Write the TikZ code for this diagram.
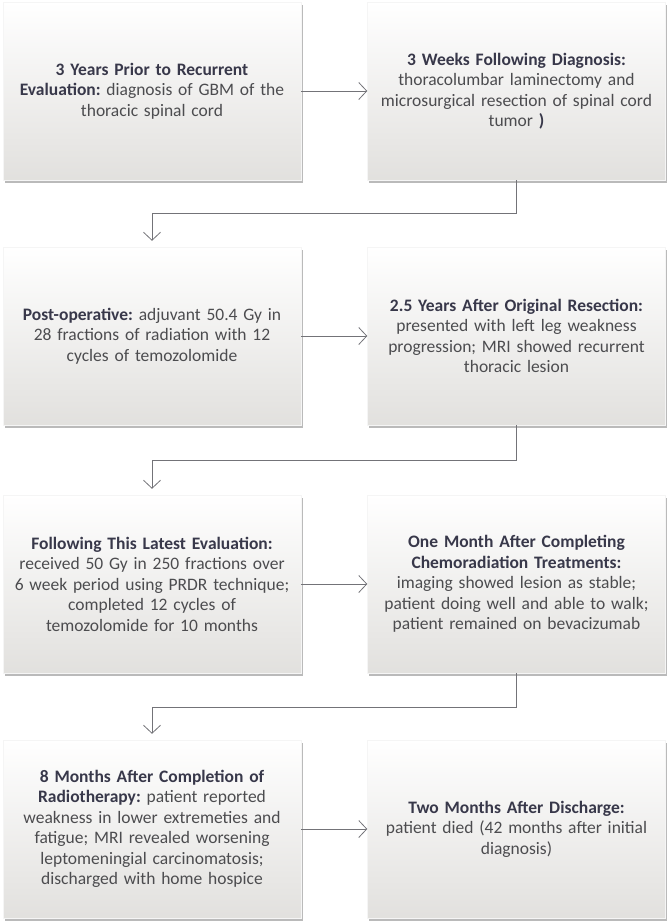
\documentclass[tikz,border=0pt]{standalone}
\usepackage{fontspec}
\setmainfont{Carlito}
\usepackage{tikz}
\usetikzlibrary{arrows.meta,positioning,shadows}
\frenchspacing
\definecolor{colorhead}{rgb}{0.22, 0.22, 0.29}
\definecolor{colortext}{rgb}{0.30, 0.30, 0.31}
\definecolor{colorboxtop}{rgb}{1, 1, 1}
\definecolor{colorboxmid}{rgb}{0.985, 0.985, 0.98}
\definecolor{colorboxbot}{rgb}{0.885, 0.88, 0.87}
\definecolor{colorline}{rgb}{0.45, 0.45, 0.47}
\newcommand{\stylehead}[1]{\textcolor{colorhead}{\textbf{#1}}}
\tikzstyle{event}=[rectangle, minimum width=298pt, minimum height=178pt, inner sep=0pt, draw=black!4, top color=colorboxtop, middle color=colorboxmid, bottom color=colorboxbot, drop shadow={shadow xshift=1.5pt, shadow yshift=-2.5pt, fill=black!45, opacity=0.6}, align=center, text width=294pt, text=colortext, font=\fontsize{17.5}{20.5}\selectfont]
\tikzstyle{flow}=[draw=colorline, line width=0.8pt, -{Straight Barb[length=8pt, width=17pt, line width=0.8pt]}]

\begin{document}
\begin{tikzpicture}[x=1pt, y=1pt]
		
		\useasboundingbox (0, 0) rectangle (668, -922);
		
		\node[event] at (152, -91) (e1) {\stylehead{3 Years Prior to Recurrent} \\ \stylehead{Evaluation:} diagnosis of GBM of the \\ thoracic spinal cord};
		
		\node[event] at (516.5, -91) (e2) {\stylehead{3 Weeks Following Diagnosis:} \\ thoracolumbar laminectomy and \\ microsurgical resection of spinal cord \\ tumor \stylehead{)}};
		
		\node[event] at (152, -336) (e3) {\stylehead{Post-operative:} adjuvant 50.4 Gy in \\ 28 fractions of radiation with 12 \\ cycles of temozolomide};
		
		\node[event] at (516.5, -336) (e4) {\stylehead{2.5 Years After Original Resection:} \\ presented with left leg weakness \\ progression; MRI showed recurrent \\ thoracic lesion};
		
		\node[event] at (152, -584) (e5) {\stylehead{Following This Latest Evaluation:} \\ received 50 Gy in 250 fractions over \\ 6 week period using PRDR technique; \\ completed 12 cycles of \\ temozolomide for 10 months};
		
		\node[event] at (516.5, -584) (e6) {\stylehead{One Month After Completing} \\ \stylehead{Chemoradiation Treatments:} \\ imaging showed lesion as stable; \\ patient doing well and able to walk; \\ patient remained on bevacizumab};
		
		\node[event] at (152, -829) (e7) {\stylehead{8 Months After Completion of} \\ \stylehead{Radiotherapy:} patient reported \\ weakness in lower extremeties and \\ fatigue; MRI revealed worsening \\ leptomeningial carcinomatosis; \\ discharged with home hospice};
		
		\node[event] at (516.5, -829) (e8) {\stylehead{Two Months After Discharge:} \\ patient died (42 months after initial \\ diagnosis)};
		
		% across each row
		\path[flow] (e1) -- (e2);
		\path[flow] (e3) -- (e4);
		\path[flow] (e5) -- (e6);
		\path[flow] (e7) -- (e8);
		
		% back down to the next row
		\path[flow, shorten >=6pt] (e2.south) -- ++(0, -33) -| (e3.north);
		\path[flow, shorten >=6pt] (e4.south) -- ++(0, -35) -| (e5.north);
		\path[flow, shorten >=6pt] (e6.south) -- ++(0, -34) -| (e7.north);
		
		\end{tikzpicture}
\end{document}
